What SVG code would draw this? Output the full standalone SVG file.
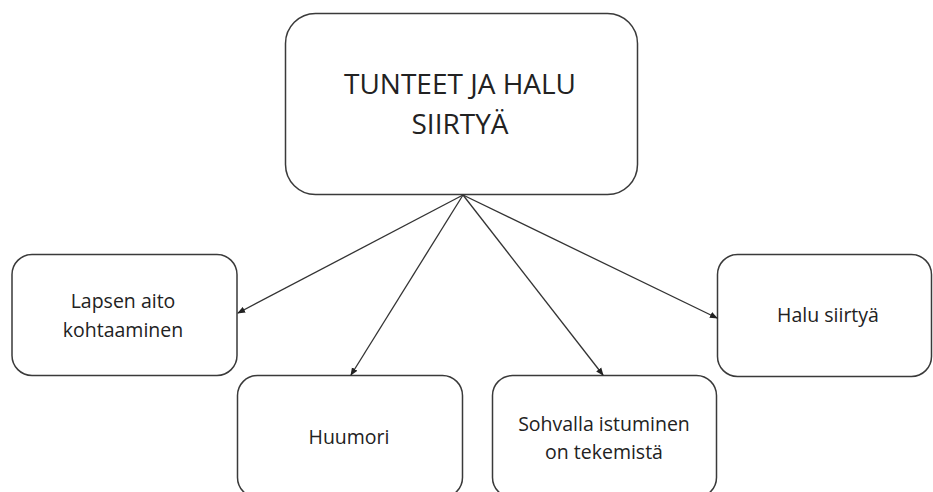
<svg xmlns="http://www.w3.org/2000/svg" width="933" height="492" viewBox="0 0 933 492">
<style>
.box{fill:#fff;stroke:#3a3a3a;stroke-width:1.5}
.t{font-family:"Open Sans","Liberation Sans",sans-serif;fill:#222;text-anchor:middle}
.s{font-size:19.5px}
.b{font-size:28px}
.c{stroke:#333;stroke-width:1.3;fill:none;marker-end:url(#ah)}
</style>
<defs>
<marker id="ah" markerWidth="8" markerHeight="8" refX="7" refY="4" orient="auto" markerUnits="userSpaceOnUse">
<path d="M0,0.8 L8,4 L0,7.2 Z" fill="#222"/>
</marker>
</defs>
<rect width="933" height="492" fill="#fff"/>
<g id="main">
<rect class="box" x="285.5" y="13.5" width="352" height="181" rx="30"/>
<text class="t b" x="460" y="94">TUNTEET JA HALU</text>
<text class="t b" x="460" y="134">SIIRTYÄ</text>
</g>
<g id="lapsen">
<rect class="box" x="12" y="254.5" width="225" height="121" rx="20"/>
<text class="t s" x="123" y="308">Lapsen aito</text>
<text class="t s" x="123" y="337">kohtaaminen</text>
</g>
<g id="huumori">
<rect class="box" x="237.5" y="375.5" width="225" height="122" rx="20"/>
<text class="t s" x="349" y="444">Huumori</text>
</g>
<g id="sohvalla">
<rect class="box" x="492.5" y="375.5" width="224" height="122" rx="20"/>
<text class="t s" x="604" y="431">Sohvalla istuminen</text>
<text class="t s" x="604" y="459">on tekemistä</text>
</g>
<g id="halu">
<rect class="box" x="717.5" y="254.5" width="214" height="122" rx="20"/>
<text class="t s" x="828" y="322">Halu siirtyä</text>
</g>
<g id="connectors">
<line class="c" x1="463" y1="195" x2="238" y2="313"/>
<line class="c" x1="463" y1="195" x2="351" y2="375"/>
<line class="c" x1="463" y1="195" x2="603" y2="375"/>
<line class="c" x1="463" y1="195" x2="717" y2="318"/>
</g>
</svg>
